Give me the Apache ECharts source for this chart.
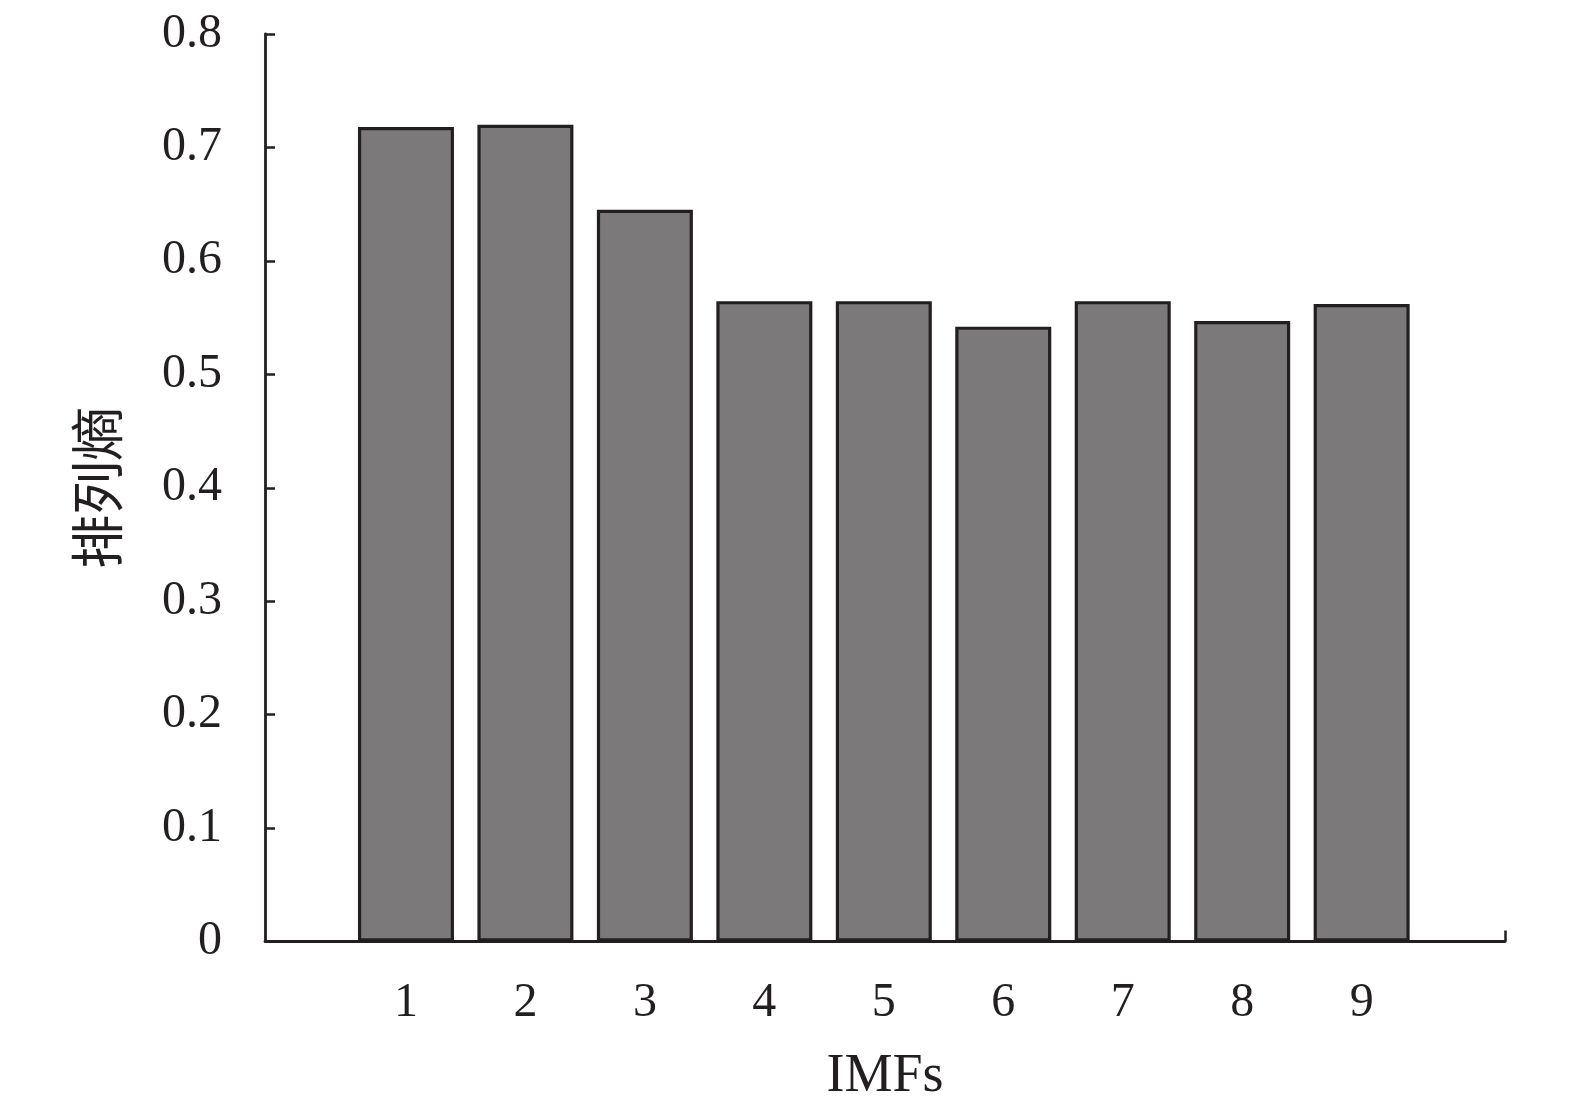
<!DOCTYPE html>
<html>
<head>
<meta charset="utf-8">
<script src="https://cdn.jsdelivr.net/npm/echarts@6/dist/echarts.min.js"></script>
<style>html,body{margin:0;padding:0;background:#fff;}#c{width:1575px;height:1114px;}</style>
</head>
<body>
<div id="c"></div>
<script>
const categories = [1, 2, 3, 4, 5, 6, 7, 8, 9];
const entropy = [0.718, 0.720, 0.645, 0.5645, 0.5645, 0.542, 0.5645, 0.547, 0.562];
const yTicks = [0, 0.1, 0.2, 0.3, 0.4, 0.5, 0.6, 0.7, 0.8];

const ink = '#231f20';
const serif = '"Liberation Serif","DejaVu Serif",serif';
const chart = echarts.init(document.getElementById('c'));
chart.setOption({
  animation: false,
  backgroundColor: '#ffffff',
  grid: { left: 265, right: 70, top: 34, bottom: 172.5, containLabel: false },
  xAxis: {
    type: 'value',
    min: -0.18,
    max: 10.2,
    name: 'IMFs',
    nameLocation: 'middle',
    nameGap: 108,
    nameTextStyle: { color: ink, fontFamily: serif, fontSize: 54 },
    splitLine: { show: false },
    axisLine: { show: true, onZero: false, lineStyle: { color: ink, width: 2.8 } },
    axisTick: { show: true, inside: true, length: 11, lineStyle: { color: ink, width: 2.5 },
      customValues: categories.concat([10.2]) },
    axisLabel: { color: ink, fontFamily: serif, fontSize: 48, margin: 38,
      customValues: categories, formatter: v => String(v) }
  },
  yAxis: {
    type: 'value',
    min: 0,
    max: 0.8,
    interval: 0.1,
    name: '排列熵',
    nameLocation: 'middle',
    nameGap: 141,
    nameRotate: 90,
    nameTextStyle: { color: ink, fontFamily: '"Noto Sans CJK SC"', fontSize: 54 },
    splitLine: { show: false },
    axisLine: { show: true, onZero: false, lineStyle: { color: ink, width: 2.8 } },
    axisTick: { show: true, inside: true, length: 10, lineStyle: { color: ink, width: 2.5 } },
    axisLabel: { color: ink, fontFamily: serif, fontSize: 48, margin: 43,
      formatter: v => (v === 0 ? '0' : v.toFixed(1)) }
  },
  series: [{
    type: 'bar',
    data: categories.map((c, i) => [c, entropy[i]]),
    barWidth: 96,
    itemStyle: { color: '#7b797a', borderColor: ink, borderWidth: 3.2 },
    z: 1
  }]
});
</script>
</body>
</html>
